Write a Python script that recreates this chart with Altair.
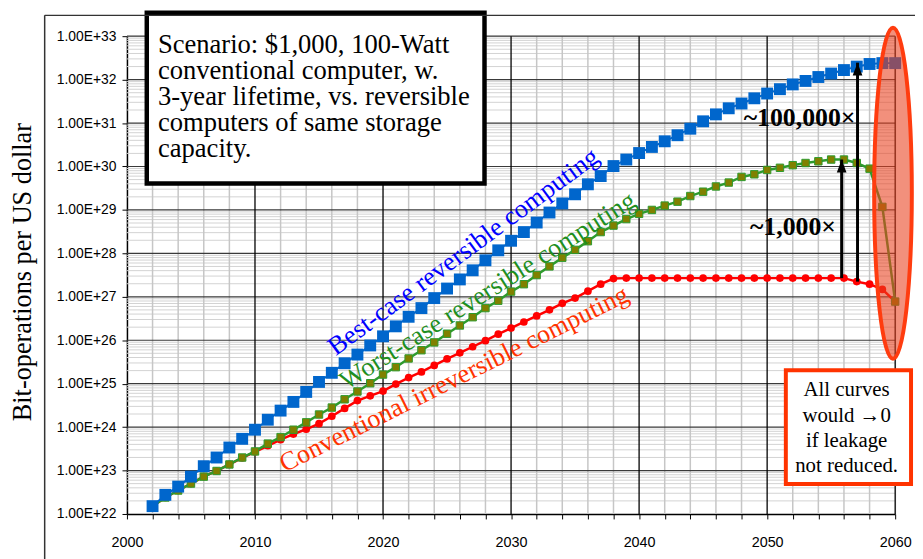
import altair as alt
import pandas as pd

# ---------------- data (values stored as log10) ----------------
years = list(range(2002, 2061))

best_exp = [22.18, 22.44, 22.63, 22.86, 23.10, 23.30, 23.53, 23.73, 23.94, 24.17,
            24.38, 24.58, 24.81, 25.04, 25.25, 25.47, 25.67, 25.88, 26.09, 26.32,
            26.54, 26.74, 26.97, 27.19, 27.40, 27.61, 27.84, 28.07, 28.29, 28.49,
            28.71, 28.94, 29.15, 29.36, 29.59, 29.78, 30.01, 30.16, 30.31, 30.45,
            30.58, 30.72, 30.87, 31.04, 31.20, 31.34, 31.45, 31.57, 31.68, 31.78,
            31.89, 31.97, 32.06, 32.14, 32.22, 32.30, 32.36, 32.38, 32.38]

worst_exp = [22.18, 22.38, 22.54, 22.70, 22.86, 22.99, 23.14, 23.30, 23.44, 23.62,
             23.77, 23.94, 24.11, 24.29, 24.45, 24.64, 24.82, 25.01, 25.21, 25.38,
             25.58, 25.77, 25.95, 26.15, 26.34, 26.53, 26.74, 26.91, 27.12, 27.29,
             27.50, 27.70, 27.90, 28.08, 28.28, 28.49, 28.64, 28.79, 28.91, 29.00,
             29.10, 29.19, 29.32, 29.42, 29.54, 29.63, 29.76, 29.82, 29.92, 29.97,
             30.03, 30.08, 30.12, 30.16, 30.16, 30.08, 29.95, 29.07, 26.89]

conv_exp = [22.18, 22.38, 22.54, 22.70, 22.86, 22.99, 23.14, 23.29, 23.43, 23.57,
            23.71, 23.84, 23.95, 24.08, 24.25, 24.43, 24.61, 24.72, 24.83, 24.99,
            25.14, 25.27, 25.42, 25.57, 25.71, 25.85, 25.99, 26.14, 26.28, 26.42,
            26.56, 26.70, 26.85, 26.97, 27.13, 27.29, 27.42, 27.43, 27.43, 27.43,
            27.43, 27.43, 27.43, 27.43, 27.43, 27.43, 27.43, 27.43, 27.43, 27.43,
            27.43, 27.43, 27.43, 27.43, 27.43, 27.35, 27.29, 27.17, 26.89]

# arrows: year, start exponent, end exponent
arrow_years = [2055.82, 2057.06]
arrow_from_exp = [27.43, 27.35]
arrow_to_exp = [30.16, 32.39]
arrow_labels = ["~1,000×", "~100,000×"]

decade_exps = list(range(22, 34))
x_tick_years = list(range(2000, 2061, 2))
x_major_years = list(range(2010, 2061, 10))
x_minor_years = [y for y in x_tick_years if y % 10 != 0 and y != 2000]
minor_mults = [2, 3, 4, 5, 6, 7, 8, 9]

series_labels = ["Best-case reversible computing",
                 "Worst-case reversible computing",
                 "Conventional irreversible computing"]
scenario_lines = ["Scenario: $1,000, 100-Watt",
                  "conventional computer, w.",
                  "3-year lifetime, vs. reversible",
                  "computers of same storage",
                  "capacity."]
leak_lines = ["All curves", "would \u21920", "if leakage", "not reduced."]
y_title = "Bit-operations per US dollar"

# ---------------- tables ----------------
df = pd.DataFrame({
    "year": years,
    "best": [10 ** e for e in best_exp],
    "worst": [10 ** e for e in worst_exp],
    "conv": [10 ** e for e in conv_exp],
})
df_minor_h = pd.DataFrame({"v": [m * 10 ** k for k in decade_exps[:-1] for m in minor_mults]})
df_major_h = pd.DataFrame({"v": [10 ** k for k in decade_exps[1:]]})
df_minor_v = pd.DataFrame({"year": x_minor_years})
df_major_v = pd.DataFrame({"year": x_major_years})
df_arrows = pd.DataFrame({
    "year": arrow_years,
    "y0": [10 ** e for e in arrow_from_exp],
    "y1": [10 ** e for e in arrow_to_exp],
})
one = pd.DataFrame({"a": [0]})

# ---------------- scales / axes ----------------
xs = alt.Scale(domain=[2000, 2060], nice=False, zero=False)
ys = alt.Scale(type="log", domain=[1e22, 1e33], nice=False)

xaxis = alt.Axis(title=None, values=x_tick_years,
                 labelExpr="datum.value % 10 == 0 ? format(datum.value, 'd') : ''",
                 grid=False, tickSize=5, tickColor="black", tickWidth=1,
                 domainColor="black", domainWidth=1.5,
                 labelFont="Liberation Sans", labelFontSize=14.5, labelColor="black",
                 labelPadding=17, labelFlush=False, labelOverlap=False)
yaxis = alt.Axis(title=None, values=[10 ** k for k in decade_exps],
                 labelExpr="'1.00E+' + format(round(log(datum.value) / LN10), 'd')",
                 grid=False, tickSize=5, tickColor="black", tickWidth=1,
                 domainColor="black", domainWidth=1.5,
                 labelFont="Liberation Sans", labelFontSize=14, labelColor="black",
                 labelPadding=6, labelFlush=False, labelOverlap=False)

X = alt.X("year:Q", scale=xs, axis=xaxis)

def Y(field):
    return alt.Y(field + ":Q", scale=ys, axis=yaxis)

# ---------------- grid ----------------
g_minor_h = alt.Chart(df_minor_h).mark_rule(color="#D2D2D2", strokeWidth=1).encode(y=Y("v"))
g_minor_v = alt.Chart(df_minor_v).mark_rule(color="#C6C6C6", strokeWidth=1.5).encode(x=X)
g_major_h = alt.Chart(df_major_h).mark_rule(color="#3A3A3A", strokeWidth=1.2).encode(y=Y("v"))
g_major_v = alt.Chart(df_major_v).mark_rule(color="#000000", strokeWidth=1.3).encode(x=X)

# ---------------- series ----------------
base = alt.Chart(df)
conv_line = base.mark_line(color="#FF0000", strokeWidth=2.5).encode(x=X, y=Y("conv"))
conv_pts = base.mark_point(shape="circle", filled=True, color="#FF0000", size=60,
                           opacity=1).encode(x=X, y=Y("conv"))
worst_line = base.mark_line(color="#2E9B2E", strokeWidth=2.5).encode(x=X, y=Y("worst"))
worst_pts = base.mark_point(shape="square", filled=True, fill="#808000", stroke="#2E9B2E",
                            strokeWidth=1, size=56, opacity=1).encode(x=X, y=Y("worst"))
best_line = base.mark_line(color="#0066CC", strokeWidth=2).encode(x=X, y=Y("best"))
best_pts = base.mark_point(shape="square", filled=True, color="#0066CC", size=144,
                           opacity=1).encode(x=X, y=Y("best"))

# ---------------- rotated series labels ----------------
lab_best = alt.Chart(one).mark_text(text=series_labels[0], angle=323.5, font="Liberation Serif",
                                    fontSize=26.5, color="#0000FF", align="center",
                                    baseline="middle").encode(x=alt.value(339.5), y=alt.value(217.5))
lab_worst = alt.Chart(one).mark_text(text=series_labels[1], angle=327.5, font="Liberation Serif",
                                     fontSize=26.5, color="#1F8F1F", align="center",
                                     baseline="middle").encode(x=alt.value(364), y=alt.value(257))
lab_conv = alt.Chart(one).mark_text(text=series_labels[2], angle=333.5, font="Liberation Serif",
                                    fontSize=26.5, color="#FF3300", align="center",
                                    baseline="middle").encode(x=alt.value(330), y=alt.value(346))

# ---------------- arrows ----------------
arrow_head_path = "M0,-1L0.75,1L-0.75,1Z"
arr_shaft = alt.Chart(df_arrows).mark_rule(color="black", strokeWidth=3).encode(
    x=X, y=Y("y0"), y2=alt.Y2("y1:Q"))
arr_head = alt.Chart(df_arrows).mark_point(shape=arrow_head_path, filled=True, color="black",
                                           size=169, opacity=1, yOffset=6.5).encode(x=X, y=Y("y1"))
arr_lab1 = alt.Chart(one).mark_text(text=arrow_labels[0], font="Liberation Serif", fontSize=26,
                                    fontWeight="bold", color="black", align="right",
                                    baseline="alphabetic").encode(x=alt.value(715.3), y=alt.value(201))
arr_lab2 = alt.Chart(one).mark_text(text=arrow_labels[1], font="Liberation Serif", fontSize=26,
                                    fontWeight="bold", color="black", align="right",
                                    baseline="alphabetic").encode(x=alt.value(735), y=alt.value(91))

# ---------------- ellipse highlighting the end ----------------
ellipse_path = ("M0,-1C0.0628,-1,0.1138,-0.5523,0.1138,0C0.1138,0.5523,0.0628,1,0,1"
                "C-0.0628,1,-0.1138,0.5523,-0.1138,0C-0.1138,-0.5523,-0.0628,-1,0,-1Z")
ellipse = alt.Chart(one).mark_point(shape=ellipse_path, size=111556, filled=True,
                                    fill="#E8401E", fillOpacity=0.58, stroke="#FF3C0F",
                                    strokeWidth=4, strokeOpacity=1, opacity=1).encode(
    x=alt.value(772.8), y=alt.value(158.5))

# ---------------- boxes ----------------
scen_box = alt.Chart(one).mark_rect(fill="white", stroke="black", strokeWidth=4.5).encode(
    x=alt.value(20), x2=alt.value(360.7), y=alt.value(-23.7), y2=alt.value(148.7))
scen_text = alt.Chart(one).mark_text(text=scenario_lines, font="Liberation Serif", fontSize=26.8,
                                     lineHeight=26.25, color="black", align="left",
                                     baseline="alphabetic").encode(x=alt.value(31.3), y=alt.value(17))
leak_box = alt.Chart(one).mark_rect(fill="white", stroke="#FF3300", strokeWidth=4).encode(
    x=alt.value(664.7), x2=alt.value(791), y=alt.value(337), y2=alt.value(451.7))
leak_text = alt.Chart(one).mark_text(text=leak_lines, font="Liberation Serif", fontSize=21,
                                     lineHeight=25.5, color="black", align="center",
                                     baseline="alphabetic").encode(x=alt.value(726), y=alt.value(363.3))

# ---------------- y title & outer frame ----------------
ytitle = alt.Chart(one).mark_text(text=y_title, angle=270, font="Liberation Serif", fontSize=26.5,
                                  color="black", align="center", baseline="middle").encode(
    x=alt.value(-104.5), y=alt.value(238))
frame_top = alt.Chart(one).mark_rule(color="#333333", strokeWidth=1.5).encode(
    x=alt.value(-83), x2=alt.value(900), y=alt.value(-21))
frame_left = alt.Chart(one).mark_rule(color="#333333", strokeWidth=1.5).encode(
    x=alt.value(-83), y=alt.value(-21), y2=alt.value(600))

chart = alt.layer(
    g_minor_h, g_minor_v, g_major_h, g_major_v,
    conv_line, conv_pts, worst_line, worst_pts, best_line, best_pts,
    lab_best, lab_worst, lab_conv,
    arr_shaft, arr_head, arr_lab1, arr_lab2,
    ellipse, scen_box, scen_text, leak_box, leak_text,
    ytitle, frame_top, frame_left,
).properties(
    width=775, height=482,
    autosize=alt.AutoSizeParams(type="none"),
    padding={"left": 120, "top": 26, "right": 20, "bottom": 45},
).configure_view(stroke=None).configure(background="white")

chart.save("out.html", embed_options={"renderer": "svg", "actions": False})
